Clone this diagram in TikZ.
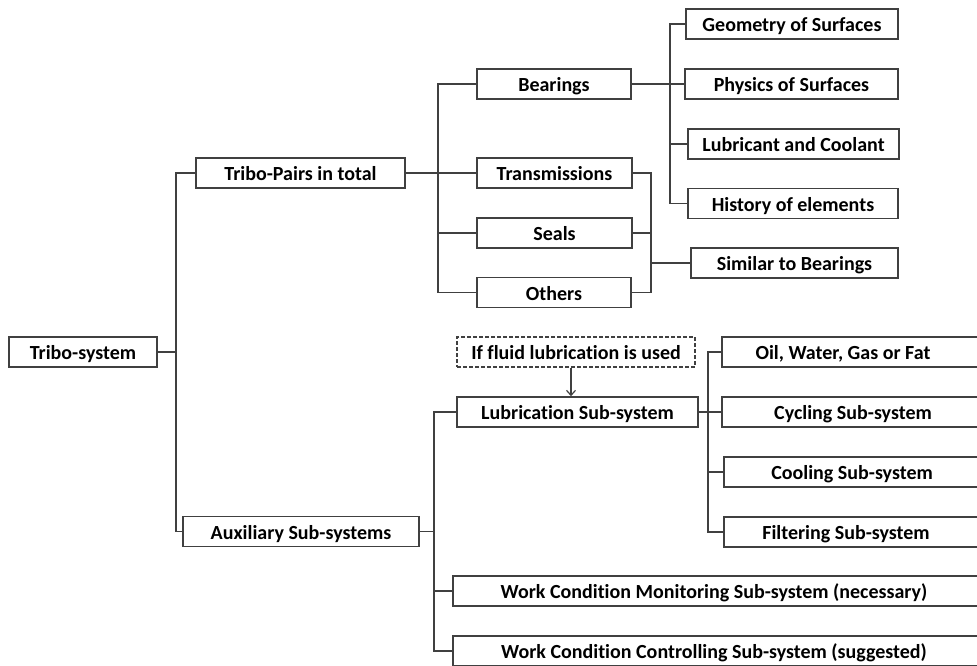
\documentclass[tikz,border=0pt]{standalone}
\usepackage{fontspec}
\setmainfont{Carlito}[Ligatures=NoCommon]
\usetikzlibrary{arrows.meta}
\definecolor{edge}{HTML}{404040}
\tikzset{
  box/.style={draw=edge, line width=1.6pt, rectangle, inner sep=0pt, minimum height=30pt, text height=15pt, text depth=0pt, font=\bfseries\fontsize{20}{24}\selectfont, text=black},
  dbox/.style={box, line width=1.2pt, dash pattern=on 4pt off 2pt},
  txt/.style={inner sep=0pt, text height=15pt, text depth=0pt, font=\bfseries\fontsize{20}{24}\selectfont, text=black},
  conn/.style={draw=edge, line width=1.6pt},
}
\begin{document}
\begin{tikzpicture}[x=1pt,y=-1pt]
\useasboundingbox (0,0) rectangle (977,665);
% level 0/1
\node[box, minimum width=148pt] (ts) at (83,352) {Tribo-system};
\node[box, minimum width=209pt] (tp) at (300.5,173) {Tribo-Pairs in total};
\node[box, minimum width=236pt] (aux) at (301,531.5) {Auxiliary Sub-systems};
% tribo pairs branch
\node[box, minimum width=154pt] (be) at (554,84) {Bearings};
\node[box, minimum width=155pt] (tr) at (554.5,173) {Transmissions};
\node[box, minimum width=155pt] (se) at (554.5,233) {Seals};
\node[box, minimum width=154pt] (ot) at (554,292.5) {Others};
\node[box, minimum width=212pt] (ge) at (792,24) {Geometry of Surfaces};
\node[box, minimum width=213pt] (ph) at (791.5,84) {Physics of Surfaces};
\node[box, minimum width=211pt] (lu) at (793.5,144) {Lubricant and Coolant};
\node[box, minimum width=210pt] (hi) at (793,203.5) {History of elements};
\node[box, minimum width=207pt] (si) at (794.5,263) {Similar to Bearings};
% auxiliary branch
\node[dbox, minimum width=238pt] (iff) at (576,352) {If fluid lubrication is used};
\node[box, minimum width=241pt] (lub) at (577.5,412) {Lubrication Sub-system};
\node[box, minimum width=270pt, anchor=west] (oil) at (721,352) {};
\node[txt] (oilt) at (843,352) {Oil, Water, Gas or Fat};
\node[box, minimum width=270pt, anchor=west] (cyc) at (721,412) {};
\node[txt] (cyct) at (853,412) {Cycling Sub-system};
\node[box, minimum width=270pt, anchor=west] (coo) at (723,472) {};
\node[txt] (coot) at (852,472) {Cooling Sub-system};
\node[box, minimum width=270pt, anchor=west] (fil) at (723,532) {};
\node[txt] (filt) at (846,532) {Filtering Sub-system};
\node[box, minimum width=540pt, anchor=west] (mon) at (452,591) {};
\node[txt] (mont) at (714,591) {Work Condition Monitoring Sub-system (necessary)};
\node[box, minimum width=540pt, anchor=west] (ctl) at (452,651) {};
\node[txt] (ctlt) at (714,651) {Work Condition Controlling Sub-system (suggested)};
% bus points
\coordinate (b1) at (176,352);
\coordinate (b2) at (438,173);
\coordinate (b3) at (670,84);
\coordinate (b4) at (651,263);
\coordinate (b5) at (434,531.5);
\coordinate (b6) at (708,412);
% connectors
\draw[conn] (ts.east) -- (b1);
\draw[conn] (b1) |- (tp.west);
\draw[conn] (b1) |- (aux.west);
\draw[conn] (tp.east) -- (tr.west);
\draw[conn] (b2) |- (be.west);
\draw[conn] (b2) |- (se.west);
\draw[conn] (b2) |- (ot.west);
\draw[conn] (be.east) -- (ph.west);
\draw[conn] (b3) |- (ge.west);
\draw[conn] (b3) |- (lu.west);
\draw[conn] (b3) |- (hi.west);
\draw[conn] (tr.east) -| (b4);
\draw[conn] (se.east) -| (b4);
\draw[conn] (ot.east) -| (b4);
\draw[conn] (b4) -- (si.west);
\draw[conn] (aux.east) -- (b5);
\draw[conn] (b5) |- (lub.west);
\draw[conn] (b5) |- (mon.west);
\draw[conn] (b5) |- (ctl.west);
\draw[conn] (lub.east) -- (cyc.west);
\draw[conn] (b6) |- (oil.west);
\draw[conn] (b6) |- (coo.west);
\draw[conn] (b6) |- (fil.west);
\draw[conn, line width=1.2pt, -{Straight Barb[length=5pt,width=9pt]}] (iff.south -| 571,0) -- (lub.north -| 571,0);
\end{tikzpicture}
\end{document}
